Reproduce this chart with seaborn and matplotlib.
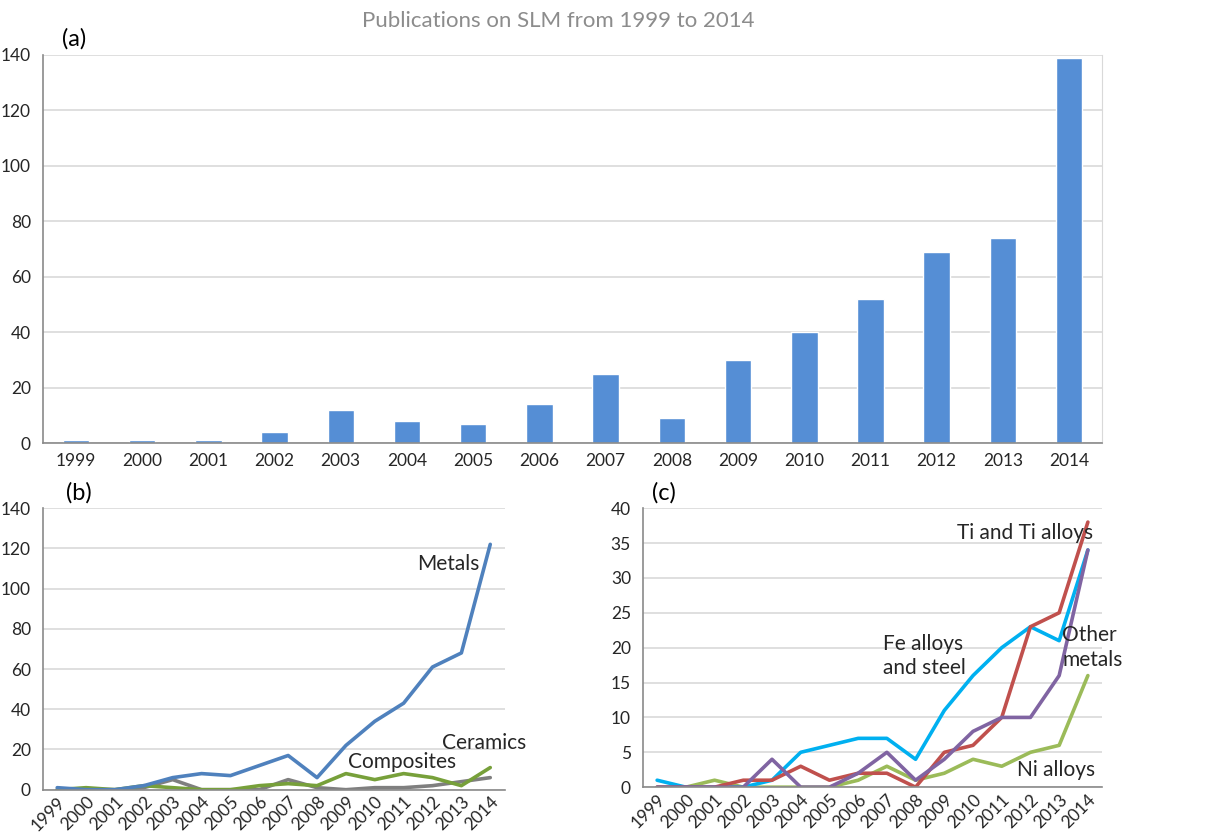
import matplotlib
matplotlib.use("Agg")
import matplotlib.pyplot as plt
import seaborn as sns
import pandas as pd
import numpy as np

years = [str(y) for y in range(1999, 2015)]

# (a) total publications per year
total_pubs = [1, 1, 1, 4, 12, 8, 7, 14, 25, 9, 30, 40, 52, 69, 74, 139]

# (b) by material class
metals = [1, 0, 0, 2, 6, 8, 7, 12, 17, 6, 22, 34, 43, 61, 68, 122]
composites = [0, 1, 0, 2, 1, 0, 0, 2, 3, 2, 8, 5, 8, 6, 2, 11]
ceramics = [0, 0, 0, 1, 5, 0, 0, 0, 5, 1, 0, 1, 1, 2, 4, 6]

# (c) by metal type
fe_steel = [1, 0, 0, 0, 1, 5, 6, 7, 7, 4, 11, 16, 20, 23, 21, 34]
ti_alloys = [0, 0, 0, 1, 1, 3, 1, 2, 2, 0, 5, 6, 10, 23, 25, 38]
other_metals = [0, 0, 0, 0, 4, 0, 0, 2, 5, 1, 4, 8, 10, 10, 16, 34]
ni_alloys = [0, 0, 1, 0, 0, 0, 0, 1, 3, 1, 2, 4, 3, 5, 6, 16]

sns.set_style("white")
plt.rcParams["font.family"] = ["Lato", "DejaVu Sans"]

spine_col = "#8a8a8a"
grid_col = "#d9d9d9"
text_col = "#262626"


def style_axes(ax, ymax, ystep, rotate):
    n = len(years)
    ax.set_xlim(-0.5, n - 0.5)
    ax.set_ylim(0, ymax)
    ax.set_yticks(np.arange(0, ymax + 1, ystep))
    ax.set_xticks(range(n))
    ax.set_xticks(np.arange(-0.5, n, 1.0), minor=True)
    ax.tick_params(axis="x", which="major", length=0, labelsize=12.5,
                   labelcolor=text_col, pad=7)
    ax.tick_params(axis="x", which="minor", length=5, color=spine_col,
                   direction="out")
    ax.tick_params(axis="y", length=5, color=spine_col, labelsize=12.5,
                   labelcolor=text_col, direction="out")
    if rotate:
        ax.set_xticklabels(years, rotation=45, ha="right",
                           rotation_mode="anchor")
        ax.tick_params(axis="x", which="major", pad=3)
    else:
        ax.set_xticklabels(years)
    ax.yaxis.grid(True, color=grid_col, linewidth=1.2)
    ax.set_axisbelow(True)
    for s in ["top", "right"]:
        ax.spines[s].set_visible(False)
    for s in ["left", "bottom"]:
        ax.spines[s].set_color(spine_col)
        ax.spines[s].set_linewidth(1.2)
    ax.set_xlabel("")
    ax.set_ylabel("")


fig = plt.figure(figsize=(12.22, 8.33), dpi=100)

# panel (a)
ax_a = fig.add_axes([0.035, 0.468, 0.867, 0.466])
df_a = pd.DataFrame({"year": years, "count": total_pubs})
sns.barplot(data=df_a, x="year", y="count", color="#558ed5", width=0.4,
            saturation=1, ax=ax_a)
style_axes(ax_a, 140, 20, rotate=False)
ax_a.spines["right"].set_visible(True)
ax_a.spines["right"].set_color(grid_col)
ax_a.text(0.018, 1.015, "(a)", transform=ax_a.transAxes, fontsize=17,
          color="black", va="bottom")
fig.text(0.457, 0.975, "Publications on SLM from 1999 to 2014",
         ha="center", va="center", fontsize=16, color="#8c8c8c")

# panel (b)
ax_b = fig.add_axes([0.035, 0.052, 0.378, 0.338])
df_b = pd.DataFrame({"year": years * 3,
                     "count": metals + composites + ceramics,
                     "class": ["Metals"] * 16 + ["Composites"] * 16
                     + ["Ceramics"] * 16})
sns.lineplot(data=df_b, x="year", y="count", hue="class",
             palette={"Metals": "#4f81bd", "Composites": "#77a03a",
                      "Ceramics": "#7f7f7f"},
             hue_order=["Ceramics", "Composites", "Metals"],
             linewidth=2.6, legend=False, ax=ax_b)
style_axes(ax_b, 140, 20, rotate=True)
ax_b.text(0.05, 1.015, "(b)", transform=ax_b.transAxes, fontsize=17,
          color="black", va="bottom")
ax_b.text(0.81, 0.80, "Metals", transform=ax_b.transAxes, fontsize=15,
          color=text_col, va="center")
ax_b.text(0.66, 0.10, "Composites", transform=ax_b.transAxes, fontsize=15,
          color=text_col, va="center")
ax_b.text(0.865, 0.165, "Ceramics", transform=ax_b.transAxes, fontsize=15,
          color=text_col, va="center", clip_on=False)

# panel (c)
ax_c = fig.add_axes([0.526, 0.055, 0.376, 0.335])
df_c = pd.DataFrame({"year": years * 4,
                     "count": fe_steel + ti_alloys + other_metals + ni_alloys,
                     "metal": ["Fe"] * 16 + ["Ti"] * 16 + ["Other"] * 16
                     + ["Ni"] * 16})
sns.lineplot(data=df_c, x="year", y="count", hue="metal",
             palette={"Fe": "#00b0f0", "Ti": "#c0504d", "Other": "#8064a2",
                      "Ni": "#9bbb59"},
             hue_order=["Ni", "Fe", "Ti", "Other"],
             linewidth=2.6, legend=False, ax=ax_c)
style_axes(ax_c, 40, 5, rotate=True)
ax_c.text(0.02, 1.015, "(c)", transform=ax_c.transAxes, fontsize=17,
          color="black", va="bottom")
ax_c.text(0.684, 0.91, "Ti and Ti alloys", transform=ax_c.transAxes,
          fontsize=15, color=text_col, va="center")
ax_c.text(0.523, 0.47, "Fe alloys\nand steel", transform=ax_c.transAxes,
          fontsize=15, color=text_col, va="center", linespacing=1.3)
ax_c.text(0.913, 0.50, "Other\nmetals", transform=ax_c.transAxes,
          fontsize=15, color=text_col, va="center", linespacing=1.3,
          clip_on=False)
ax_c.text(0.815, 0.06, "Ni alloys", transform=ax_c.transAxes, fontsize=15,
          color=text_col, va="center")

fig.savefig("out.png", dpi=100)
